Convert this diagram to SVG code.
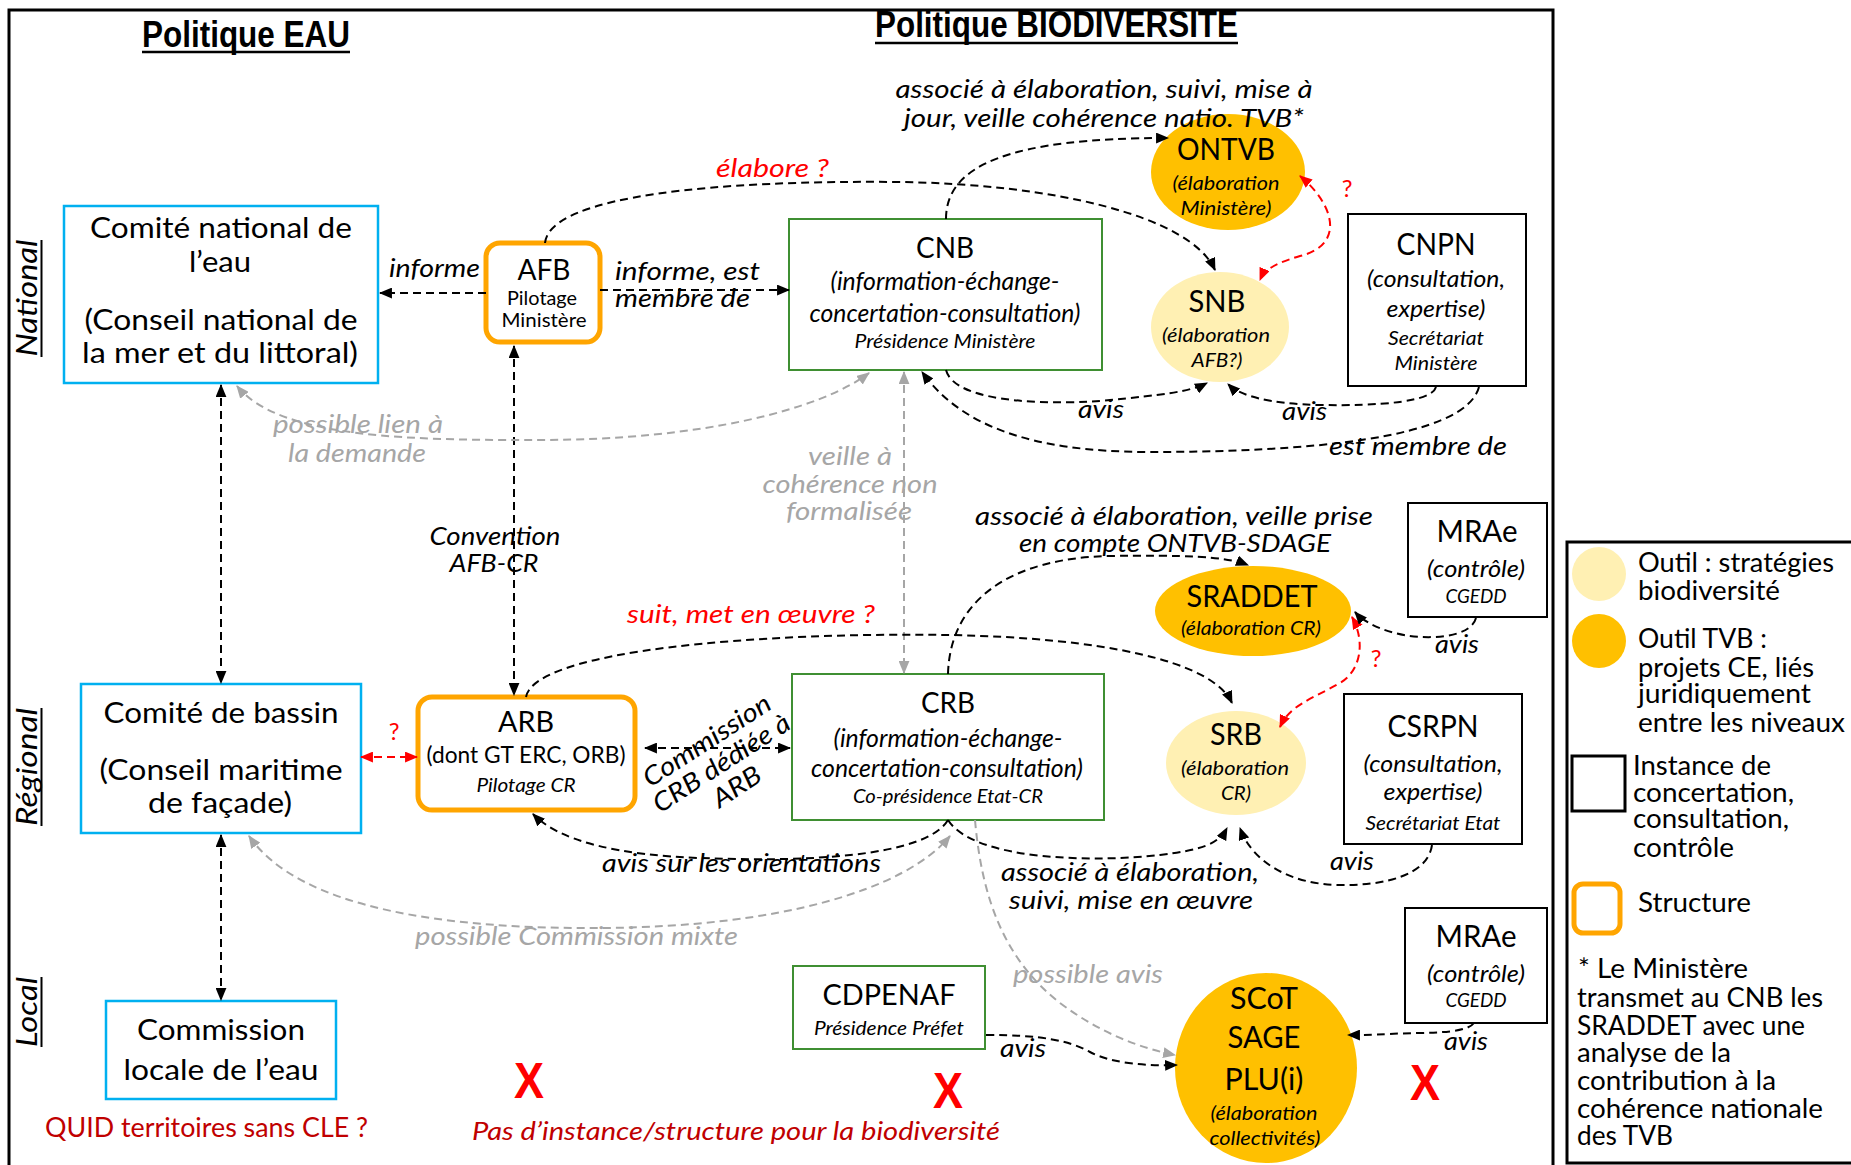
<svg xmlns="http://www.w3.org/2000/svg" width="1851" height="1165" viewBox="0 0 1851 1165">
<style>
text{font-family:Lato,"Liberation Sans",sans-serif;fill:#000}
.m{text-anchor:middle}
.i{font-style:italic}
.g{fill:#A6A6A6}
.r{fill:#FF0000}
.dr{fill:#C00000}
.h{font-family:"Liberation Sans Narrow","Liberation Sans",sans-serif;font-weight:bold;font-size:36px}
.x{font-family:"Liberation Sans",sans-serif;font-weight:bold;font-size:50px;fill:#FF0000;text-anchor:middle}
.c{fill:none;stroke:#000;stroke-width:2;stroke-dasharray:8 5}
.cg{fill:none;stroke:#A6A6A6;stroke-width:2;stroke-dasharray:8 5}
.cr{fill:none;stroke:#FF0000;stroke-width:2;stroke-dasharray:8 5}
.bb{fill:#fff;stroke:#00B0F0;stroke-width:2.5}
.gb{fill:#fff;stroke:#3F8F32;stroke-width:2}
.kb{fill:#fff;stroke:#000;stroke-width:2}
.ob{fill:#fff;stroke:#FFA500;stroke-width:5}
.tvb{fill:#FFC000}
.str{fill:#FFF0B3}
.s30{font-size:30px}.s29{font-size:29px}.s25{font-size:25px}.s24{font-size:24px}.s20{font-size:20px}.s19{font-size:19px}.s26{font-size:26px}
</style>
<defs>
<marker id="ak" viewBox="0 0 12 10" refX="11" refY="5" markerUnits="userSpaceOnUse" markerWidth="13" markerHeight="11" orient="auto-start-reverse"><path d="M0,0 L12,5 L0,10 z" fill="#000"/></marker>
<marker id="ag" viewBox="0 0 12 10" refX="11" refY="5" markerUnits="userSpaceOnUse" markerWidth="13" markerHeight="11" orient="auto-start-reverse"><path d="M0,0 L12,5 L0,10 z" fill="#A6A6A6"/></marker>
<marker id="ar" viewBox="0 0 12 10" refX="11" refY="5" markerUnits="userSpaceOnUse" markerWidth="13" markerHeight="11" orient="auto-start-reverse"><path d="M0,0 L12,5 L0,10 z" fill="#FF0000"/></marker>
</defs>
<rect width="1851" height="1165" fill="#fff"/>
<rect x="9" y="10" width="1544" height="1170" fill="none" stroke="#000" stroke-width="3"/>
<rect x="1567" y="542" width="300" height="621" fill="none" stroke="#000" stroke-width="3"/>

<g id="titles">
<text class="h" x="142" y="47" textLength="208" lengthAdjust="spacingAndGlyphs">Politique EAU</text>
<line x1="142" y1="52" x2="350" y2="52" stroke="#000" stroke-width="2.5"/>
<text class="h" x="875" y="37" textLength="363" lengthAdjust="spacingAndGlyphs">Politique BIODIVERSITE</text>
<line x1="875" y1="43" x2="1238" y2="43" stroke="#000" stroke-width="2.5"/>
<text class="i s29 m" transform="translate(37,298) rotate(-90)" textLength="117" lengthAdjust="spacingAndGlyphs">National</text>
<line x1="41.5" y1="240" x2="41.5" y2="357" stroke="#000" stroke-width="2"/>
<text class="i s29 m" transform="translate(37,767) rotate(-90)" textLength="118" lengthAdjust="spacingAndGlyphs">Régional</text>
<line x1="41.5" y1="708" x2="41.5" y2="826" stroke="#000" stroke-width="2"/>
<text class="i s29 m" transform="translate(37,1012) rotate(-90)" textLength="70" lengthAdjust="spacingAndGlyphs">Local</text>
<line x1="41.5" y1="977" x2="41.5" y2="1047" stroke="#000" stroke-width="2"/>
</g>

<g id="cne">
<rect class="bb" x="64" y="206" width="314" height="177"/>
<text class="s29 m" x="221" y="238" textLength="262" lengthAdjust="spacingAndGlyphs">Comité national de</text>
<text class="s29 m" x="220" y="272" textLength="62" lengthAdjust="spacingAndGlyphs">l’eau</text>
<text class="s29 m" x="221" y="330" textLength="273" lengthAdjust="spacingAndGlyphs">(Conseil national de</text>
<text class="s29 m" x="220" y="363" textLength="276" lengthAdjust="spacingAndGlyphs">la mer et du littoral)</text>
</g>
<g id="afb">
<rect class="ob" x="486" y="243" width="114" height="99" rx="14"/>
<text class="s29 m" x="544" y="280" textLength="53" lengthAdjust="spacingAndGlyphs">AFB</text>
<text class="s19 m" x="542" y="305" textLength="70" lengthAdjust="spacingAndGlyphs">Pilotage</text>
<text class="s19 m" x="544" y="327" textLength="85" lengthAdjust="spacingAndGlyphs">Ministère</text>
</g>
<g id="cnb">
<rect class="gb" x="789" y="219" width="313" height="151"/>
<text class="s29 m" x="945" y="258" textLength="58" lengthAdjust="spacingAndGlyphs">CNB</text>
<text class="i s25 m" x="945" y="290" textLength="229" lengthAdjust="spacingAndGlyphs">(information-échange-</text>
<text class="i s25 m" x="945" y="322" textLength="271" lengthAdjust="spacingAndGlyphs">concertation-consultation)</text>
<text class="i s20 m" x="945" y="348" textLength="181" lengthAdjust="spacingAndGlyphs">Présidence Ministère</text>
</g>
<g id="ontvb">
<ellipse class="tvb" cx="1228" cy="172" rx="77" ry="58"/>
<text class="s30 m" x="1226" y="160" textLength="98" lengthAdjust="spacingAndGlyphs">ONTVB</text>
<text class="i s20 m" x="1226" y="190" textLength="107" lengthAdjust="spacingAndGlyphs">(élaboration</text>
<text class="i s20 m" x="1226" y="215" textLength="91" lengthAdjust="spacingAndGlyphs">Ministère)</text>
</g>
<g id="snb">
<ellipse class="str" cx="1220" cy="327" rx="69" ry="55"/>
<text class="s30 m" x="1217" y="312" textLength="57" lengthAdjust="spacingAndGlyphs">SNB</text>
<text class="i s20 m" x="1216" y="342" textLength="108" lengthAdjust="spacingAndGlyphs">(élaboration</text>
<text class="i s20 m" x="1217" y="367" textLength="51" lengthAdjust="spacingAndGlyphs">AFB?)</text>
</g>
<g id="cnpn">
<rect class="kb" x="1348" y="214" width="178" height="172"/>
<text class="s30 m" x="1436" y="255" textLength="79" lengthAdjust="spacingAndGlyphs">CNPN</text>
<text class="i s24 m" x="1436" y="287" textLength="138" lengthAdjust="spacingAndGlyphs">(consultation,</text>
<text class="i s24 m" x="1436" y="317" textLength="99" lengthAdjust="spacingAndGlyphs">expertise)</text>
<text class="i s20 m" x="1436" y="345" textLength="96" lengthAdjust="spacingAndGlyphs">Secrétariat</text>
<text class="i s20 m" x="1436" y="370" textLength="83" lengthAdjust="spacingAndGlyphs">Ministère</text>
</g>
<g id="cb">
<rect class="bb" x="81" y="684" width="280" height="149"/>
<text class="s29 m" x="221" y="723" textLength="235" lengthAdjust="spacingAndGlyphs">Comité de bassin</text>
<text class="s29 m" x="221" y="780" textLength="243" lengthAdjust="spacingAndGlyphs">(Conseil maritime</text>
<text class="s29 m" x="220" y="813" textLength="144" lengthAdjust="spacingAndGlyphs">de façade)</text>
</g>
<g id="arb">
<rect class="ob" x="418" y="697" width="217" height="113" rx="14"/>
<text class="s29 m" x="526" y="732" textLength="56" lengthAdjust="spacingAndGlyphs">ARB</text>
<text class="s24 m" x="526" y="763" textLength="199" lengthAdjust="spacingAndGlyphs">(dont GT ERC, ORB)</text>
<text class="i s20 m" x="526" y="792" textLength="99" lengthAdjust="spacingAndGlyphs">Pilotage CR</text>
</g>
<g id="crb">
<rect class="gb" x="792" y="674" width="312" height="146"/>
<text class="s29 m" x="948" y="713" textLength="54" lengthAdjust="spacingAndGlyphs">CRB</text>
<text class="i s25 m" x="948" y="747" textLength="229" lengthAdjust="spacingAndGlyphs">(information-échange-</text>
<text class="i s25 m" x="947" y="777" textLength="272" lengthAdjust="spacingAndGlyphs">concertation-consultation)</text>
<text class="i s20 m" x="948" y="803" textLength="190" lengthAdjust="spacingAndGlyphs">Co-présidence Etat-CR</text>
</g>
<g id="sraddet">
<ellipse class="tvb" cx="1253" cy="611" rx="98" ry="45"/>
<text class="s30 m" x="1252" y="607" textLength="131" lengthAdjust="spacingAndGlyphs">SRADDET</text>
<text class="i s20 m" x="1251" y="635" textLength="140" lengthAdjust="spacingAndGlyphs">(élaboration CR)</text>
</g>
<g id="srb">
<ellipse class="str" cx="1236" cy="763" rx="70" ry="52"/>
<text class="s30 m" x="1236" y="745" textLength="52" lengthAdjust="spacingAndGlyphs">SRB</text>
<text class="i s20 m" x="1235" y="775" textLength="108" lengthAdjust="spacingAndGlyphs">(élaboration</text>
<text class="i s20 m" x="1236" y="800" textLength="30" lengthAdjust="spacingAndGlyphs">CR)</text>
</g>
<g id="mrae1">
<rect class="kb" x="1408" y="503" width="139" height="114"/>
<text class="s30 m" x="1477" y="542" textLength="81" lengthAdjust="spacingAndGlyphs">MRAe</text>
<text class="i s24 m" x="1476" y="577" textLength="98" lengthAdjust="spacingAndGlyphs">(contrôle)</text>
<text class="i s19 m" x="1476" y="603" textLength="61" lengthAdjust="spacingAndGlyphs">CGEDD</text>
</g>
<g id="csrpn">
<rect class="kb" x="1344" y="694" width="178" height="150"/>
<text class="s30 m" x="1433" y="737" textLength="91" lengthAdjust="spacingAndGlyphs">CSRPN</text>
<text class="i s24 m" x="1433" y="772" textLength="139" lengthAdjust="spacingAndGlyphs">(consultation,</text>
<text class="i s24 m" x="1433" y="800" textLength="99" lengthAdjust="spacingAndGlyphs">expertise)</text>
<text class="i s20 m" x="1433" y="830" textLength="135" lengthAdjust="spacingAndGlyphs">Secrétariat Etat</text>
</g>
<g id="cle">
<rect class="bb" x="106" y="1001" width="230" height="98"/>
<text class="s29 m" x="221" y="1040" textLength="168" lengthAdjust="spacingAndGlyphs">Commission</text>
<text class="s29 m" x="221" y="1080" textLength="195" lengthAdjust="spacingAndGlyphs">locale de l’eau</text>
</g>
<g id="cdpenaf">
<rect class="gb" x="793" y="966" width="192" height="83"/>
<text class="s29 m" x="889" y="1005" textLength="133" lengthAdjust="spacingAndGlyphs">CDPENAF</text>
<text class="i s20 m" x="889" y="1035" textLength="150" lengthAdjust="spacingAndGlyphs">Présidence Préfet</text>
</g>
<g id="scot">
<ellipse class="tvb" cx="1266" cy="1068" rx="91" ry="95"/>
<text class="s30 m" x="1264" y="1009" textLength="68" lengthAdjust="spacingAndGlyphs">SCoT</text>
<text class="s30 m" x="1264" y="1048" textLength="73" lengthAdjust="spacingAndGlyphs">SAGE</text>
<text class="s30 m" x="1264" y="1090" textLength="79" lengthAdjust="spacingAndGlyphs">PLU(i)</text>
<text class="i s20 m" x="1264" y="1120" textLength="107" lengthAdjust="spacingAndGlyphs">(élaboration</text>
<text class="i s20 m" x="1265" y="1145" textLength="111" lengthAdjust="spacingAndGlyphs">collectivités)</text>
</g>
<g id="mrae2">
<rect class="kb" x="1405" y="908" width="142" height="115"/>
<text class="s30 m" x="1476" y="947" textLength="81" lengthAdjust="spacingAndGlyphs">MRAe</text>
<text class="i s24 m" x="1476" y="982" textLength="98" lengthAdjust="spacingAndGlyphs">(contrôle)</text>
<text class="i s19 m" x="1476" y="1007" textLength="61" lengthAdjust="spacingAndGlyphs">CGEDD</text>
</g>

<g id="legend">
<ellipse class="str" cx="1599" cy="574" rx="27" ry="27"/>
<text class="s26" x="1638" y="572" textLength="196" lengthAdjust="spacingAndGlyphs">Outil : stratégies</text>
<text class="s26" x="1638" y="600" textLength="142" lengthAdjust="spacingAndGlyphs">biodiversité</text>
<ellipse class="tvb" cx="1599" cy="641" rx="27" ry="27"/>
<text class="s26" x="1638" y="648" textLength="129" lengthAdjust="spacingAndGlyphs">Outil TVB :</text>
<text class="s26" x="1638" y="677" textLength="176" lengthAdjust="spacingAndGlyphs">projets CE, liés</text>
<text class="s26" x="1638" y="703" textLength="173" lengthAdjust="spacingAndGlyphs">juridiquement</text>
<text class="s26" x="1638" y="732" textLength="207" lengthAdjust="spacingAndGlyphs">entre les niveaux</text>
<rect x="1572" y="756" width="53" height="55" fill="none" stroke="#000" stroke-width="3"/>
<text class="s26" x="1633" y="775" textLength="138" lengthAdjust="spacingAndGlyphs">Instance de</text>
<text class="s26" x="1633" y="802" textLength="161" lengthAdjust="spacingAndGlyphs">concertation,</text>
<text class="s26" x="1633" y="828" textLength="156" lengthAdjust="spacingAndGlyphs">consultation,</text>
<text class="s26" x="1633" y="857" textLength="101" lengthAdjust="spacingAndGlyphs">contrôle</text>
<rect class="ob" x="1574" y="884" width="46" height="49" rx="9"/>
<text class="s26" x="1638" y="912" textLength="113" lengthAdjust="spacingAndGlyphs">Structure</text>
<text class="s26" x="1578" y="978" textLength="170" lengthAdjust="spacingAndGlyphs">* Le Ministère</text>
<text class="s26" x="1577" y="1007" textLength="246" lengthAdjust="spacingAndGlyphs">transmet au CNB les</text>
<text class="s26" x="1577" y="1035" textLength="228" lengthAdjust="spacingAndGlyphs">SRADDET avec une</text>
<text class="s26" x="1577" y="1062" textLength="154" lengthAdjust="spacingAndGlyphs">analyse de la</text>
<text class="s26" x="1577" y="1090" textLength="199" lengthAdjust="spacingAndGlyphs">contribution à la</text>
<text class="s26" x="1577" y="1118" textLength="246" lengthAdjust="spacingAndGlyphs">cohérence nationale</text>
<text class="s26" x="1577" y="1145" textLength="96" lengthAdjust="spacingAndGlyphs">des TVB</text>
</g>

<g id="labels">
<text class="i s25" x="389" y="277" textLength="91" lengthAdjust="spacingAndGlyphs">informe</text>
<text class="i s25" x="615" y="280" textLength="145" lengthAdjust="spacingAndGlyphs">informe, est</text>
<text class="i s25" x="615" y="307" textLength="135" lengthAdjust="spacingAndGlyphs">membre de</text>
<text class="i s25 r" x="716" y="177" textLength="113" lengthAdjust="spacingAndGlyphs">élabore ?</text>
<text class="i s25 m" x="1104" y="98" textLength="417" lengthAdjust="spacingAndGlyphs">associé à élaboration, suivi, mise à</text>
<text class="i s25 m" x="1104" y="127" textLength="400" lengthAdjust="spacingAndGlyphs">jour, veille cohérence natio. TVB*</text>
<text class="r s24 m" x="1347" y="197">?</text>
<text class="i s25" x="1078" y="418" textLength="46" lengthAdjust="spacingAndGlyphs">avis</text>
<text class="i s25" x="1282" y="420" textLength="45" lengthAdjust="spacingAndGlyphs">avis</text>
<text class="i s25" x="1329" y="455" textLength="178" lengthAdjust="spacingAndGlyphs">est membre de</text>
<text class="i s25 g" x="273" y="433" textLength="170" lengthAdjust="spacingAndGlyphs">possible lien à</text>
<text class="i s25 g" x="288" y="462" textLength="138" lengthAdjust="spacingAndGlyphs">la demande</text>
<text class="i s25 m" x="495" y="545" textLength="131" lengthAdjust="spacingAndGlyphs">Convention</text>
<text class="i s25 m" x="494" y="572" textLength="89" lengthAdjust="spacingAndGlyphs">AFB-CR</text>
<text class="i s25 g m" x="850" y="465" textLength="84" lengthAdjust="spacingAndGlyphs">veille à</text>
<text class="i s25 g m" x="850" y="493" textLength="175" lengthAdjust="spacingAndGlyphs">cohérence non</text>
<text class="i s25 g m" x="849" y="520" textLength="126" lengthAdjust="spacingAndGlyphs">formalisée</text>
<text class="r s24 m" x="394" y="740">?</text>
<text class="i s25 r" x="627" y="623" textLength="248" lengthAdjust="spacingAndGlyphs">suit, met en œuvre ?</text>
<g transform="translate(722,764) rotate(-33)">
<text class="i s26 m" x="0" y="-19" textLength="147" lengthAdjust="spacingAndGlyphs">Commission</text>
<text class="i s26 m" x="0" y="8" textLength="158" lengthAdjust="spacingAndGlyphs">CRB dédiée à</text>
<text class="i s26 m" x="0" y="36" textLength="53" lengthAdjust="spacingAndGlyphs">ARB</text>
</g>
<text class="i s25 m" x="1174" y="525" textLength="398" lengthAdjust="spacingAndGlyphs">associé à élaboration, veille prise</text>
<text class="i s25 m" x="1175" y="552" textLength="312" lengthAdjust="spacingAndGlyphs">en compte ONTVB-SDAGE</text>
<text class="r s24 m" x="1376" y="667">?</text>
<text class="i s25" x="1435" y="653" textLength="44" lengthAdjust="spacingAndGlyphs">avis</text>
<text class="i s25" x="1330" y="870" textLength="44" lengthAdjust="spacingAndGlyphs">avis</text>
<text class="i s25" x="602" y="872" textLength="279" lengthAdjust="spacingAndGlyphs">avis sur les orientations</text>
<text class="i s25 m" x="1130" y="881" textLength="258" lengthAdjust="spacingAndGlyphs">associé à élaboration,</text>
<text class="i s25 m" x="1131" y="909" textLength="244" lengthAdjust="spacingAndGlyphs">suivi, mise en œuvre</text>
<text class="i s25 g" x="415" y="945" textLength="323" lengthAdjust="spacingAndGlyphs">possible Commission mixte</text>
<text class="i s25" x="1000" y="1057" textLength="46" lengthAdjust="spacingAndGlyphs">avis</text>
<text class="i s25 g" x="1013" y="983" textLength="150" lengthAdjust="spacingAndGlyphs">possible avis</text>
<text class="i s25" x="1444" y="1050" textLength="44" lengthAdjust="spacingAndGlyphs">avis</text>
<text class="s26 dr" x="45" y="1137" textLength="323" lengthAdjust="spacingAndGlyphs">QUID territoires sans CLE ?</text>
<text class="i s25 dr" x="472" y="1140" textLength="528" lengthAdjust="spacingAndGlyphs">Pas d’instance/structure pour la biodiversité</text>
<text class="x" x="529" y="1098" textLength="30" lengthAdjust="spacingAndGlyphs">X</text>
<text class="x" x="948" y="1108" textLength="30" lengthAdjust="spacingAndGlyphs">X</text>
<text class="x" x="1425" y="1100" textLength="30" lengthAdjust="spacingAndGlyphs">X</text>
</g>

<g id="connectors">
<path class="c" d="M486,293 L380,293" marker-end="url(#ak)"/>
<path class="c" d="M600,290 L789,290" marker-end="url(#ak)"/>
<path class="c" d="M545,243 C550,195 720,180 900,182 C1050,184 1190,215 1215,270" marker-end="url(#ak)"/>
<path class="c" d="M946,219 C946,165 1010,138 1168,138" marker-end="url(#ak)"/>
<path class="cr" d="M1300,176 C1335,205 1345,245 1300,256 C1280,262 1265,268 1260,280" marker-start="url(#ar)" marker-end="url(#ar)"/>
<path class="c" d="M946,370 C955,405 1060,405 1110,400 C1160,395 1190,392 1207,383" marker-end="url(#ak)"/>
<path class="c" d="M1436,387 C1432,402 1380,406 1320,405 C1270,404 1240,396 1228,384" marker-end="url(#ak)"/>
<path class="c" d="M1479,387 C1465,440 1300,452 1150,452 C1030,452 960,425 922,372" marker-end="url(#ak)"/>
<path class="c" d="M514,346 L514,695" marker-start="url(#ak)" marker-end="url(#ak)"/>
<path class="c" d="M221,385 L221,683" marker-start="url(#ak)" marker-end="url(#ak)"/>
<path class="cg" d="M237,386 C280,440 420,440 540,440 C700,440 820,410 869,373" marker-start="url(#ag)" marker-end="url(#ag)"/>
<path class="cg" d="M904,372 L904,673" marker-start="url(#ag)" marker-end="url(#ag)"/>
<path class="cr" d="M361,757 L417,757" marker-start="url(#ar)" marker-end="url(#ar)"/>
<path class="c" d="M645,748 L790,748" marker-start="url(#ak)" marker-end="url(#ak)"/>
<path class="c" d="M526,697 C535,650 760,632 950,635 C1100,638 1212,660 1232,703" marker-end="url(#ak)"/>
<path class="c" d="M948,674 C950,600 1010,558 1110,556 C1180,555 1225,556 1248,565" marker-end="url(#ak)"/>
<path class="cr" d="M1352,617 C1365,640 1362,670 1340,683 C1310,700 1290,705 1280,727" marker-start="url(#ar)" marker-end="url(#ar)"/>
<path class="c" d="M1476,618 C1470,640 1420,640 1395,633 C1375,628 1362,620 1355,612" marker-end="url(#ak)"/>
<path class="c" d="M1432,845 C1428,875 1385,886 1338,885 C1290,884 1252,862 1240,828" marker-end="url(#ak)"/>
<path class="c" d="M948,820 C925,858 800,862 700,858 C620,855 560,842 533,814" marker-end="url(#ak)"/>
<path class="c" d="M948,820 C975,862 1100,862 1160,855 C1200,850 1218,845 1227,828" marker-end="url(#ak)"/>
<path class="cg" d="M249,836 C300,910 450,929 600,928 C780,927 905,890 950,836" marker-start="url(#ag)" marker-end="url(#ag)"/>
<path class="c" d="M221,835 L221,1000" marker-start="url(#ak)" marker-end="url(#ak)"/>
<path class="c" d="M986,1035 C1040,1035 1068,1040 1090,1052 C1112,1064 1150,1066 1177,1065" marker-end="url(#ak)"/>
<path class="cg" d="M975,820 C982,900 1005,960 1060,1003 C1100,1033 1140,1048 1175,1055" marker-end="url(#ag)"/>
<path class="c" d="M1474,1023 C1465,1035 1420,1032 1390,1034 C1370,1035 1358,1035 1348,1035" marker-end="url(#ak)"/>
</g>
</svg>
